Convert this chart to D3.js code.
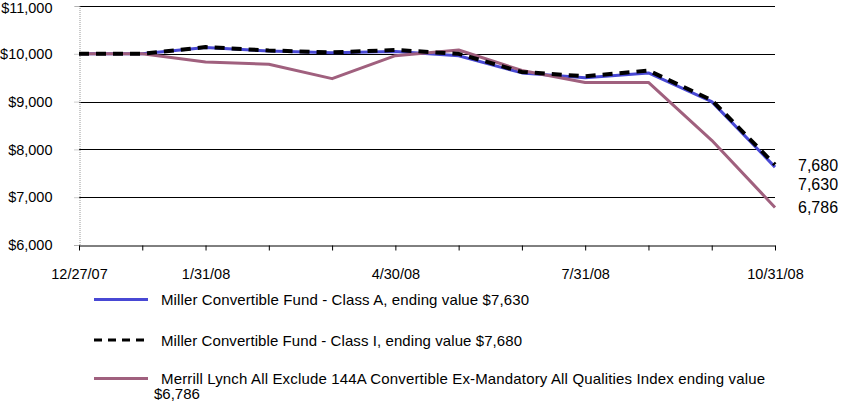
<!DOCTYPE html>
<html><head><meta charset="utf-8">
<script src="https://cdn.jsdelivr.net/npm/d3@7/dist/d3.min.js"></script>
<style>body{margin:0;background:#fff}svg{display:block}</style>
</head><body><svg id="c" width="841" height="402"></svg>
<script>
const dates = ["12/27/07","12/31/07","1/31/08","2/29/08","3/31/08","4/30/08","5/31/08","6/30/08","7/31/08","8/31/08","9/30/08","10/31/08"];
const labeledDates = ["12/27/07","1/31/08","4/30/08","7/31/08","10/31/08"];
const classA = [10000,10000,10130,10060,10020,10050,9960,9600,9500,9600,9000,7630];
const classI = [10000,10000,10140,10070,10030,10080,10000,9620,9530,9650,9030,7680];
const merrill = [10000,10000,9830,9780,9480,9960,10080,9650,9400,9400,8190,6786];
const yTicks = [6000,7000,8000,9000,10000,11000];
const endLabels = ["7,680","7,630","6,786"];
const legendNames = ["Miller Convertible Fund - Class A, ending value $7,630","Miller Convertible Fund - Class I, ending value $7,680","Merrill Lynch All Exclude 144A Convertible Ex-Mandatory All Qualities Index ending value"];
const legendExtra = "$6,786";

const svg = d3.select("#c");
const x = d3.scalePoint().domain(dates).range([79,775]);
const y = d3.scaleLinear().domain([6000,11000]).range([245,6]);
const F = "'Liberation Sans', Arial, sans-serif";

// gridlines
svg.append("g").selectAll("line").data(yTicks.filter(d=>d>6000)).join("line")
  .attr("x1",79).attr("x2",775).attr("y1",d=>Math.round(y(d))+0.5).attr("y2",d=>Math.round(y(d))+0.5)
  .attr("stroke","#000").attr("stroke-width",1);

// left axis
const ya = svg.append("g").attr("transform","translate(79.5,0)")
  .call(d3.axisLeft(y).tickValues(yTicks).tickSize(5).tickPadding(22).tickFormat(d=>"$"+d3.format(",")(d)));
ya.select(".domain").attr("stroke","#999").attr("stroke-dasharray","1,1");
ya.selectAll(".tick line").attr("stroke","#999").attr("stroke-dasharray","1,1");
ya.selectAll("text").attr("font-family",F).attr("font-size","14.5px").attr("fill","#000");
ya.selectAll(".tick").filter(d=>d===11000).select("text").attr("dy","0.42em");

// bottom axis
const xa = svg.append("g").attr("transform","translate(0,245.5)")
  .call(d3.axisBottom(x).tickSize(5).tickPadding(18).tickSizeOuter(0).tickFormat(d=>labeledDates.includes(d)?d:""));
xa.select(".domain").attr("stroke","#000");
xa.selectAll(".tick line").attr("stroke","#000");
xa.selectAll("text").attr("font-family",F).attr("font-size","14.5px").attr("fill","#000");

const line = d3.line().x((d,i)=>x(dates[i])).y(d=>y(d));
const series = [
  {v:classA, color:"#4848d4", w:3, dash:null},
  {v:merrill, color:"#a0607e", w:3, dash:null},
  {v:classI, color:"#000", w:4, dash:"10,7"}
];
svg.append("g").selectAll("path").data(series).join("path")
  .attr("d",d=>line(d.v)).attr("fill","none").attr("stroke",d=>d.color)
  .attr("stroke-width",d=>d.w).attr("stroke-dasharray",d=>d.dash).attr("stroke-linejoin","round");

// end labels
svg.append("g").selectAll("text").data(endLabels).join("text")
  .attr("x",798).attr("y",(d,i)=>[171,190,213][i])
  .attr("font-family",F).attr("font-size","16px").attr("fill","#000").text(d=>d);

// legend
const leg = [
  {color:"#4848d4", w:3, dash:null, y:299.5, name:legendNames[0], tl:368},
  {color:"#000", w:3, dash:"8,6", y:340, name:legendNames[1], tl:361},
  {color:"#a0607e", w:3, dash:null, y:378.5, name:legendNames[2], tl:604}
];
const lg = svg.append("g");
lg.selectAll("line").data(leg).join("line")
  .attr("x1",94).attr("x2",148).attr("y1",d=>d.y).attr("y2",d=>d.y)
  .attr("stroke",d=>d.color).attr("stroke-width",d=>d.w).attr("stroke-dasharray",d=>d.dash);
lg.selectAll("text").data(leg).join("text")
  .attr("x",161).attr("y",d=>d.y+5.5)
  .attr("font-family",F).attr("font-size","15px").attr("fill","#000")
  .attr("textLength",d=>d.tl).attr("lengthAdjust","spacing").text(d=>d.name);
lg.append("text").attr("x",154).attr("y",399).attr("font-family",F).attr("font-size","15px").text(legendExtra);
</script></body></html>
